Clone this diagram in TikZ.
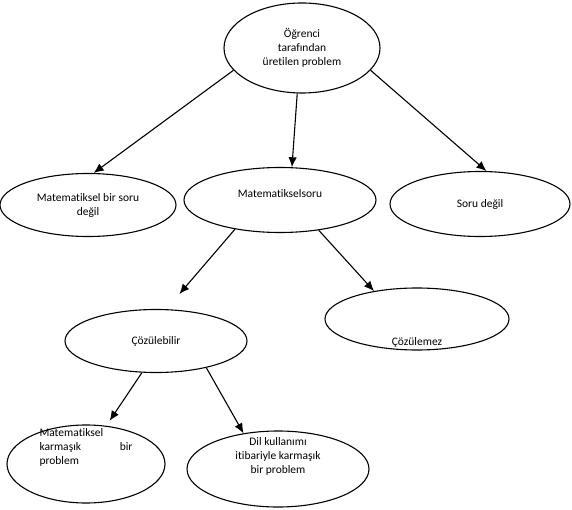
\documentclass[tikz,border=0pt]{standalone}
\usepackage{fontspec}
\setmainfont{Carlito}[Ligatures=NoCommon]
\usetikzlibrary{shapes.geometric,arrows.meta}
\tikzset{
	oval/.style={draw, ellipse, line width=1.1pt, inner sep=0pt, align=center,
		font=\fontsize{11.5}{14}\selectfont},
	ok/.style={line width=1.1pt, -{Latex[length=10pt,width=8.5pt]}}
}
\begin{document}
\begin{tikzpicture}[x=1pt,y=-1pt]
	\useasboundingbox (0,0) rectangle (572,510);
	\node[oval, minimum width=156, minimum height=90] (ogrenci) at (302,48)
	{Öğrenci\\tarafından\\üretilen problem};
	\node[oval, minimum width=176, minimum height=63] (degil) at (88,205)
	{Matematiksel bir soru\\değil};
	\node[oval, minimum width=192, minimum height=65,
	label={[yshift=6pt,font=\fontsize{11.5}{14}\selectfont]center:Matematikselsoru}] (matsoru) at (280,200) {};
	\node[oval, minimum width=180, minimum height=65] (sorudegil) at (480,204)
	{Soru değil};
	\node[oval, minimum width=182, minimum height=63] (cozulebilir) at (156,341)
	{Çözülebilir};
	\node[oval, minimum width=184, minimum height=62,
	label={[yshift=-23pt,font=\fontsize{11.5}{14}\selectfont]center:Çözülemez}] (cozulemez) at (417,319) {};
	\node[oval, minimum width=158, minimum height=78,
	label={[yshift=17pt,font=\fontsize{11.5}{14}\selectfont]center:{\parbox{93pt}{Matematiksel\\karmaşık\hfill bir\\problem}}}] (karmasik) at (86,464) {};
	\node[oval, minimum width=182, minimum height=76,
	label={[yshift=13pt,font=\fontsize{11.5}{14}\selectfont,align=center]center:Dil kullanımı\\itibariyle karmaşık\\bir problem}] (dil) at (278,469) {};
%	ok
	\draw[ok] (ogrenci.198) -- (degil.80);
	\draw[ok] (ogrenci.-96) -- (matsoru.70);
	\draw[ok] (ogrenci.-18) -- (sorudegil.79);
	\draw[ok, shorten >=20pt] (matsoru.213) -- (cozulebilir.72);
	\draw[ok] (matsoru.-38) -- (cozulemez.147);
	\draw[ok, shorten >=6pt] (cozulebilir.-114) -- (karmasik.62);
	\draw[ok] (cozulebilir.-28) -- (dil.134);
\end{tikzpicture}
\end{document}
